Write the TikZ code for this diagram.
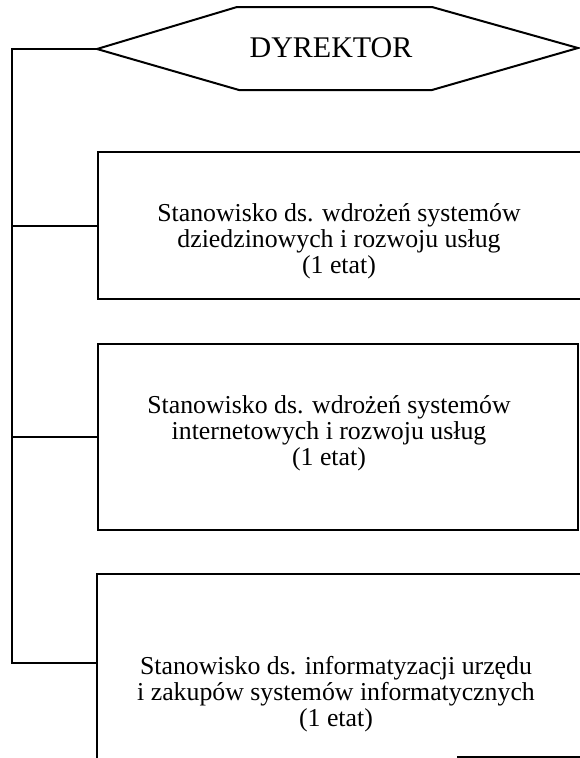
\documentclass[tikz,border=0pt]{standalone}
\usepackage{fontspec}
\setmainfont{Liberation Serif}
\begin{document}
\begin{tikzpicture}[x=1pt,y=-1pt,
  line/.style={line width=2pt, line cap=rect},
  boxnode/.style={draw, line width=2pt, rectangle, anchor=north west, inner sep=0pt},
  blank/.style={rectangle, anchor=north west, inner sep=0pt},
  label/.style={align=center, font=\fontsize{25.8}{26}\selectfont, inner sep=0pt},
  toplabel/.style={font=\fontsize{30}{30}\selectfont, inner sep=0pt}]
\useasboundingbox (0,0) rectangle (580,758);
% hexagon
\draw[line, line join=miter] (97,49) coordinate (hexL) -- (237,7) -- (432,7) -- (578,48) -- (432,90) -- (239,90) -- cycle;
\node[toplabel] (dyr) at (331,48) {DYREKTOR};
% boxes
\node[boxnode, minimum width=486, minimum height=147] (b1) at (97,151) {};
\node[boxnode, minimum width=480, minimum height=186] (b2) at (97,343) {};
\node[blank, minimum width=486, minimum height=183] (b3) at (97,574) {};
\draw[line] (b3.south west) -- (b3.north west) -- (b3.north east);
\draw[line] (b3.south east) -- ++(-125,0);
% texts
\node[label] (t1) at (339,241) {Stanowisko ds. wdrożeń systemów\\dziedzinowych i rozwoju usług\\(1 etat)};
\node[label] (t2) at (329,433) {Stanowisko ds. wdrożeń systemów\\internetowych i rozwoju usług\\(1 etat)};
\node[label] (t3) at (336,694) {Stanowisko ds. informatyzacji urzędu\\i zakupów systemów informatycznych\\(1 etat)};
% trunk
\coordinate (trT) at (12,49);
\coordinate (trB) at (12,663);
\draw[line] (hexL) -- (trT) -- (trB) -- (b3.west |- trB);
\draw[line] (trT |- b1.west) -- (b1.west);
\draw[line] (trT |- b2.west) -- (b2.west);
\end{tikzpicture}
\end{document}
